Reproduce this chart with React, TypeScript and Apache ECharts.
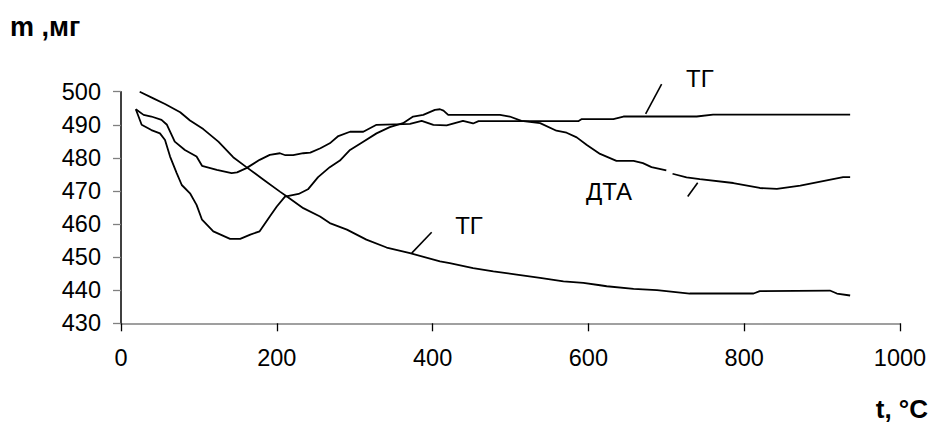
import React, { useEffect, useRef } from "react";
import * as echarts from "echarts";

const xTickValues = [0, 200, 400, 600, 800, 1000];
const yTickValues = [430, 440, 450, 460, 470, 480, 490, 500];

// Upper TG curve (ends flat ~493)
const tgTopT = [19, 29, 39, 52, 59, 69, 82, 97, 104, 123, 142, 149, 161, 178, 191, 204, 211, 221, 234, 243, 256, 268, 279, 294, 311, 328, 362, 371, 386, 401, 418, 439, 452, 459, 587, 591, 632, 645, 739, 760, 936];
const tgTopM = [494.7, 493.0, 492.5, 491.5, 490.0, 484.9, 482.4, 480.4, 477.6, 476.4, 475.4, 475.6, 476.9, 479.4, 480.9, 481.4, 480.8, 480.8, 481.4, 481.6, 482.9, 484.4, 486.6, 487.9, 487.9, 490.0, 490.2, 490.3, 491.2, 490.0, 489.8, 491.2, 490.4, 491.1, 491.1, 491.7, 491.7, 492.5, 492.5, 493.1, 493.1];

// DTA curve
const dtaT = [19, 26.5, 39, 50, 56.5, 63, 71.5, 78, 88.6, 97, 104, 118.5, 140, 153, 166, 178, 191, 200, 210.5, 228, 240, 253, 268, 281, 294, 311, 328, 345, 362, 375, 388, 403, 409.5, 414, 420, 486.5, 499, 514, 538, 559, 572, 585, 598, 615, 636, 658, 670, 681, 700, 704, 708, 726, 743, 786, 820, 842, 872, 914, 927, 936];
const dtaM: (number | null)[] = [494.7, 490.0, 488.4, 487.4, 485.4, 480.4, 475.4, 471.8, 469.3, 465.8, 461.3, 457.8, 455.5, 455.5, 456.8, 457.8, 462.3, 465.3, 468.3, 469.1, 470.5, 474.2, 477.2, 479.2, 482.4, 484.9, 487.4, 489.3, 490.5, 492.5, 493.0, 494.5, 494.7, 494.3, 493.0, 493.0, 492.5, 491.2, 490.5, 488.2, 487.6, 486.2, 483.9, 481.2, 479.1, 479.1, 478.4, 477.2, 476.2, null, 475.2, 474.1, 473.6, 472.4, 470.9, 470.6, 471.6, 473.6, 474.2, 474.2];

// Lower TG curve (500 -> ~438)
const tgLowT = [24, 41.5, 56.5, 76, 88.6, 105.6, 125, 144, 161, 183, 204, 213, 234, 255.5, 268, 290, 315, 341, 371, 409.5, 422, 452, 478, 508, 538, 568, 593.5, 615, 623.5, 658, 688, 730, 812, 820, 910, 919, 936];
const tgLowM = [500, 498.0, 496.3, 493.8, 491.3, 488.7, 484.9, 480.2, 477.2, 473.4, 469.8, 468.3, 464.8, 462.3, 460.3, 458.3, 455.3, 452.9, 451.2, 448.7, 448.2, 446.7, 445.7, 444.7, 443.7, 442.7, 442.2, 441.5, 441.2, 440.4, 440.0, 439.0, 439.0, 439.7, 439.9, 439.0, 438.4];

// Curve labels with leader lines (data coordinates)
const curveLabels = [
  { text: "ТГ", at: [743, 504.1], from: [673.5, 493.3], to: [694, 502.3] },
  { text: "ДТА", at: [626.4, 469.7], from: [727.5, 468.3], to: [740.3, 472.5] },
  { text: "ТГ", at: [446.7, 459.5], from: [373.2, 451.2], to: [398.8, 457.5] },
];

const yAxisTitle = "m ,мг";
const xAxisTitle = "t, °С";

const FONT = 'Arial, "Liberation Sans", sans-serif';
const TICK_FONT_SIZE = 23.5;

function pairs(ts: number[], ms: (number | null)[]) {
  return ts.map((t, i) => [t, ms[i] === null ? "-" : ms[i]]);
}

export default function App() {
  const ref = useRef<HTMLDivElement>(null);
  useEffect(() => {
    const chart = echarts.init(ref.current!, null, { renderer: "svg" });
    const lineSeries = (name: string, data: any[]) => ({
      name,
      type: "line",
      data,
      showSymbol: false,
      symbol: "none",
      smooth: false,
      connectNulls: false,
      lineStyle: { color: "#000", width: 1.8 },
      itemStyle: { color: "#000" },
      z: 3,
    });
    chart.setOption({
      animation: false,
      backgroundColor: "#fff",
      grid: { left: 121, right: 32, top: 91.7, bottom: 99.7 },
      xAxis: {
        type: "value",
        min: xTickValues[0],
        max: xTickValues[xTickValues.length - 1],
        interval: 200,
        axisLine: { show: true, onZero: false, lineStyle: { color: "#808080", width: 1.5 } },
        axisTick: { show: true, length: 8, lineStyle: { color: "#000", width: 1.3 } },
        axisLabel: {
          color: "#000",
          fontSize: TICK_FONT_SIZE,
          fontFamily: FONT,
          margin: 23,
          formatter: (v: number) => String(v),
        },
        splitLine: { show: false },
      },
      yAxis: {
        type: "value",
        min: yTickValues[0],
        max: yTickValues[yTickValues.length - 1],
        interval: 10,
        axisLine: { show: true, onZero: false, lineStyle: { color: "#000", width: 1.5 } },
        axisTick: { show: true, length: 8, lineStyle: { color: "#808080", width: 1.3 } },
        axisLabel: {
          color: "#000",
          fontSize: TICK_FONT_SIZE,
          fontFamily: FONT,
          margin: 20,
          formatter: (v: number) => String(v),
        },
        splitLine: { show: false },
      },
      series: [
        lineSeries("ТГ верх", pairs(tgTopT, tgTopM)),
        lineSeries("ДТА", pairs(dtaT, dtaM)),
        lineSeries("ТГ", pairs(tgLowT, tgLowM)),
      ],
    });

    const graphics: any[] = [
      {
        type: "text",
        left: 10,
        top: 13,
        style: {
          text: yAxisTitle,
          fill: "#000",
          fontSize: 27,
          fontWeight: "bold",
          fontFamily: FONT,
        },
      },
      {
        type: "text",
        right: 4,
        top: 396,
        style: {
          text: xAxisTitle,
          fill: "#000",
          fontSize: 26,
          fontWeight: "bold",
          fontFamily: FONT,
        },
      },
    ];
    curveLabels.forEach((l) => {
      const p = chart.convertToPixel({ gridIndex: 0 }, l.at) as number[];
      const a = chart.convertToPixel({ gridIndex: 0 }, l.from) as number[];
      const b = chart.convertToPixel({ gridIndex: 0 }, l.to) as number[];
      graphics.push({
        type: "text",
        x: p[0],
        y: p[1],
        style: {
          text: l.text,
          fill: "#000",
          fontSize: 24,
          fontFamily: FONT,
          align: "center",
          verticalAlign: "middle",
        },
      });
      graphics.push({
        type: "line",
        shape: { x1: a[0], y1: a[1], x2: b[0], y2: b[1] },
        style: { stroke: "#000", lineWidth: 1.6 },
      });
    });
    chart.setOption({ graphic: graphics });

    return () => chart.dispose();
  }, []);
  return <div ref={ref} style={{ position: "fixed", left: 0, top: 0, width: 932, height: 423 }} />;
}
